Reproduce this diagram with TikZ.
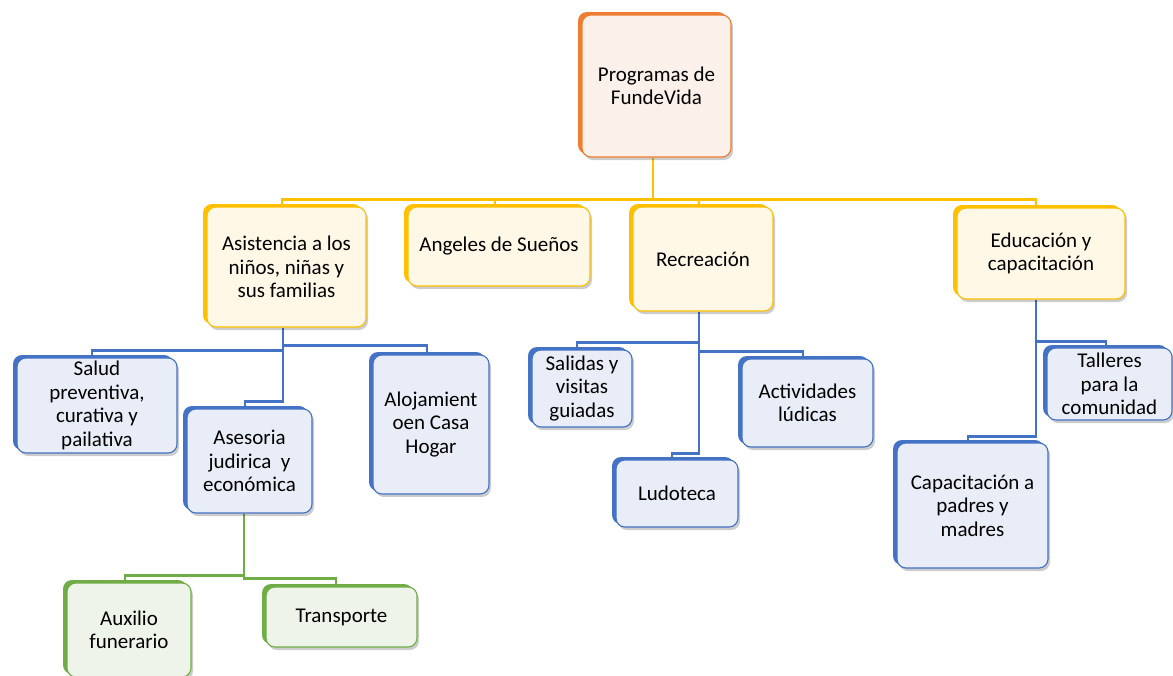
\documentclass[tikz,border=0pt]{standalone}
\usepackage{fontspec}
\setmainfont{Carlito}
\usetikzlibrary{shadows,backgrounds}
\definecolor{org}{HTML}{ED7D31}
\definecolor{orgfill}{HTML}{FBF0EA}
\definecolor{gold}{HTML}{FFC000}
\definecolor{goldfill}{HTML}{FFF8E7}
\definecolor{blu}{HTML}{4472C4}
\definecolor{blufill}{HTML}{E9EDF7}
\definecolor{grn}{HTML}{70AD47}
\definecolor{grnfill}{HTML}{EEF4EA}
\begin{document}
\begin{tikzpicture}[x=1pt,y=-1pt,
  box/.style={rounded corners=9pt, line width=1.1pt, align=center, inner sep=1pt,
    text=black, font=\fontsize{21}{23.5}\selectfont},
  bx/.style n args={2}{minimum width=#1pt, minimum height=#2pt},
  fam/.style n args={2}{draw=#1, fill=#2,
    drop shadow={shadow xshift=2pt, shadow yshift=-3pt, opacity=0.2, fill=black},
    general shadow={fill=#1, shadow xshift=-4pt, shadow yshift=3pt}},
  ob/.style={box, fam={org}{orgfill}},
  gb/.style={box, fam={gold}{goldfill}},
  bb/.style={box, fam={blu}{blufill}},
  nb/.style={box, fam={grn}{grnfill}},
  conn/.style={line width=2.2pt},
  yc/.style={conn, draw=gold},
  bc/.style={conn, draw=blu},
  gc/.style={conn, draw=grn}]
\useasboundingbox (0,0) rectangle (1173,675);

\node[ob, bx={149}{142}] (top) at (656.5,86) {Programas de\\FundeVida};

\node[gb, bx={159}{120}] (asis) at (286.5,267) {Asistencia a los\\niños, niñas y\\sus familias};
\node[gb, bx={182}{79}] (ang) at (499,246.5) {Angeles de Sueños};
\node[gb, bx={140}{104}] (rec) at (703,259) {Recreación};
\node[gb, bx={168}{91}] (edu) at (1041,253.5) {Educación y\\capacitación};

\node[bb, bx={160}{95}] (salud) at (97,405.5) {Salud\\preventiva,\\curativa y\\pailativa};
\node[bb, bx={125}{104}] (ases) at (249.5,461) {Asesoria\\judirica\ \ y\\económica};
\node[bb, bx={116}{139}] (aloj) at (431,424.5) {Alojamient\\oen Casa\\Hogar};

\node[nb, bx={124}{94}] (aux) at (129,630) {Auxilio\\funerario};
\node[nb, bx={151}{60}] (trans) at (341.5,617) {Transporte};

\node[bb, bx={100}{77}] (sal) at (582,388.5) {Salidas y\\visitas\\guiadas};
\node[bb, bx={131}{88}] (act) at (807.5,403) {Actividades\\lúdicas};
\node[bb, bx={122}{67}] (ludo) at (677,493.5) {Ludoteca};

\node[bb, bx={125}{72}] (tal) at (1109.5,384) {Talleres\\para la\\comunidad};
\node[bb, bx={151}{125}] (cap) at (972.5,505.5) {Capacitación a\\padres y\\madres};

\begin{scope}[on background layer]
\fill[white] (0,0) rectangle (1173,675);
\draw[yc] ([xshift=-3.5pt]top.south) -- ++(0,42) -| ([xshift=-4.5pt]asis.north);
\draw[yc] ([xshift=-3.5pt]top.south) -- ++(0,42) -| ([xshift=-4pt]ang.north);
\draw[yc] ([xshift=-3.5pt]top.south) -- ++(0,42) -| ([xshift=-4pt]rec.north);
\draw[yc] ([xshift=-3.5pt]top.south) -- ++(0,42) -| ([xshift=-5pt]edu.north);

\draw[bc] ([xshift=-3.5pt]asis.south) -- ++(0,23) -| ([xshift=-5pt]salud.north);
\draw[bc] ([xshift=-3.5pt]asis.south) -- ++(0,18) -| ([xshift=-4pt]aloj.north);
\draw[bc] ([xshift=-3.5pt]asis.south) -- ++(0,74) -| ([xshift=-4.5pt]ases.north);

\draw[gc] ([xshift=-5.5pt]ases.south) -- ++(0,62) -| ([xshift=-4pt]aux.north);
\draw[gc] ([xshift=-5.5pt]ases.south) -- ++(0,65) -| ([xshift=-5.5pt]trans.north);

\draw[bc] ([xshift=-4pt]rec.south) -- ++(0,31) -| ([xshift=-5pt]sal.north);
\draw[bc] ([xshift=-4pt]rec.south) -- ++(0,40) -| ([xshift=-4.5pt]act.north);
\draw[bc] ([xshift=-4pt]rec.south) -- ++(0,142) -| ([xshift=-5pt]ludo.north);

\draw[bc] ([xshift=-5pt]edu.south) -- ++(0,42) -| ([xshift=-3.5pt]tal.north);
\draw[bc] ([xshift=-5pt]edu.south) -- ++(0,137) -| ([xshift=-4.5pt]cap.north);
\end{scope}
\end{tikzpicture}
\end{document}
